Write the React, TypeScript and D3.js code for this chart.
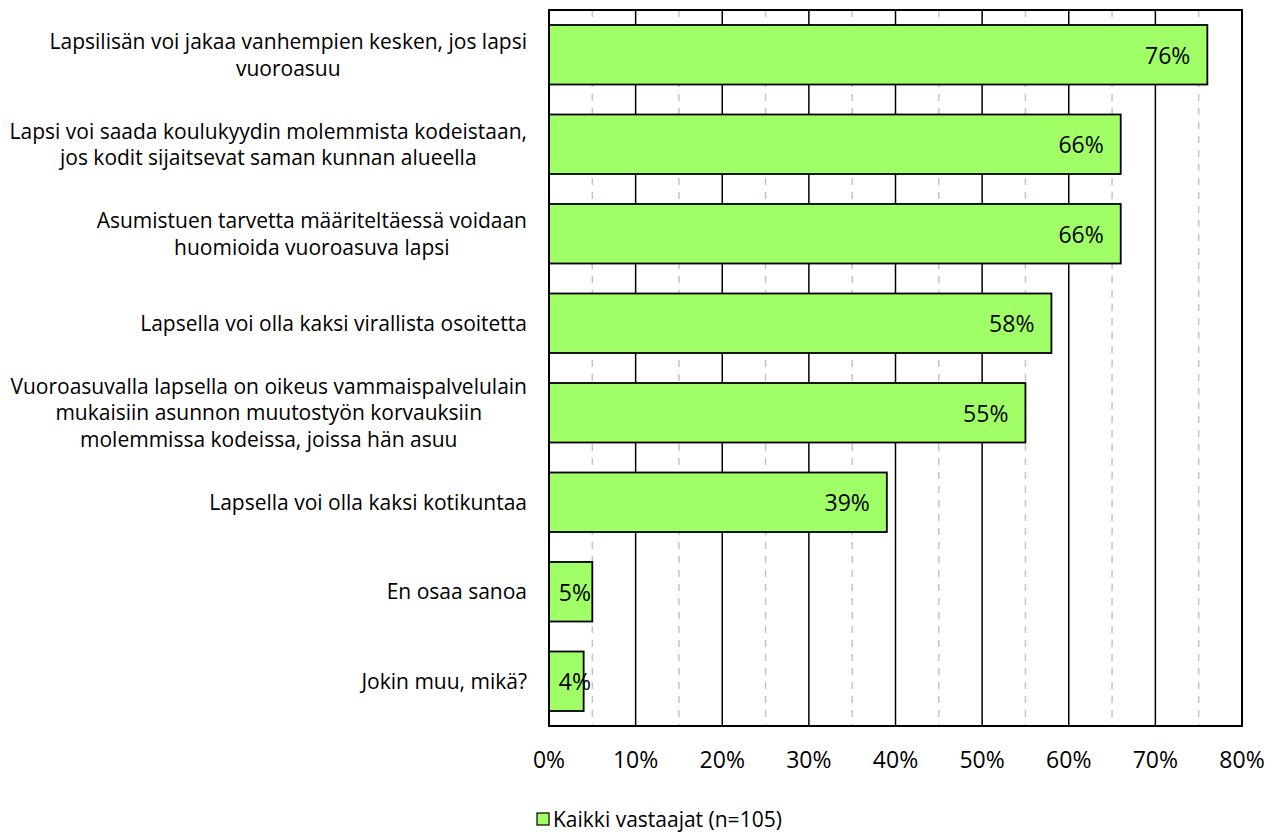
import React, { useEffect, useRef } from 'react';
import * as d3 from 'd3';

// category labels, line breaks as in the original chart
const categories = [
  'Lapsilisän voi jakaa vanhempien kesken, jos lapsi\nvuoroasuu',
  'Lapsi voi saada koulukyydin molemmista kodeistaan,\njos kodit sijaitsevat saman kunnan alueella',
  'Asumistuen tarvetta määriteltäessä voidaan\nhuomioida vuoroasuva lapsi',
  'Lapsella voi olla kaksi virallista osoitetta',
  'Vuoroasuvalla lapsella on oikeus vammaispalvelulain\nmukaisiin asunnon muutostyön korvauksiin\nmolemmissa kodeissa, joissa hän asuu',
  'Lapsella voi olla kaksi kotikuntaa',
  'En osaa sanoa',
  'Jokin muu, mikä?'
];
const values = [76, 66, 66, 58, 55, 39, 5, 4];
const majorTicks = [0, 10, 20, 30, 40, 50, 60, 70, 80];
const minorTicks = [5, 15, 25, 35, 45, 55, 65, 75];
const seriesName = 'Kaikki vastaajat (n=105)';

const FONT = '"Open Sans", "Liberation Sans", sans-serif';
const GREEN = '#a0ff66';

export default function App() {
  const svgRef = useRef<SVGSVGElement>(null);

  useEffect(() => {
    document.body.style.margin = '0';
    if (!svgRef.current) return;

    const W = 1277;
    const H = 834;
    const plot = { left: 549, right: 1242, top: 10, bottom: 726 };

    const svg = d3.select(svgRef.current);
    svg.selectAll('*').remove();
    svg.attr('width', W).attr('height', H);

    const x = d3.scaleLinear().domain([0, 80]).range([plot.left, plot.right]);
    const y = d3.scaleBand<string>()
      .domain(categories)
      .range([plot.top, plot.bottom])
      .paddingInner(0.335)
      .paddingOuter(0.1675);

    // minor dashed grid
    svg.append('g')
      .selectAll('line')
      .data(minorTicks)
      .enter()
      .append('line')
      .attr('x1', d => x(d))
      .attr('x2', d => x(d))
      .attr('y1', plot.top)
      .attr('y2', plot.bottom)
      .attr('stroke', '#c4c4c4')
      .attr('stroke-width', 1.5)
      .attr('stroke-dasharray', '7,7');

    // major grid
    svg.append('g')
      .selectAll('line')
      .data(majorTicks.slice(1, -1))
      .enter()
      .append('line')
      .attr('x1', d => x(d))
      .attr('x2', d => x(d))
      .attr('y1', plot.top)
      .attr('y2', plot.bottom)
      .attr('stroke', '#000')
      .attr('stroke-width', 1.5);

    // bars
    svg.append('g')
      .selectAll('rect')
      .data(values)
      .enter()
      .append('rect')
      .attr('x', x(0))
      .attr('y', (d, i) => y(categories[i]) || 0)
      .attr('width', d => x(d) - x(0))
      .attr('height', y.bandwidth())
      .attr('fill', GREEN)
      .attr('stroke', '#000')
      .attr('stroke-width', 1.8);

    // plot border
    svg.append('rect')
      .attr('x', plot.left)
      .attr('y', plot.top)
      .attr('width', plot.right - plot.left)
      .attr('height', plot.bottom - plot.top)
      .attr('fill', 'none')
      .attr('stroke', '#000')
      .attr('stroke-width', 2);

    // value labels
    svg.append('g')
      .selectAll('text')
      .data(values)
      .enter()
      .append('text')
      .attr('x', d => Math.max(x(d) - 17, x(0) + 42))
      .attr('y', (d, i) => (y(categories[i]) || 0) + y.bandwidth() / 2 + 9)
      .attr('text-anchor', 'end')
      .attr('font-family', FONT)
      .attr('font-size', 23)
      .attr('fill', '#000')
      .text(d => `${d}%`);

    // x tick labels
    svg.append('g')
      .selectAll('text')
      .data(majorTicks)
      .enter()
      .append('text')
      .attr('x', d => x(d))
      .attr('y', 768)
      .attr('text-anchor', 'middle')
      .attr('font-family', FONT)
      .attr('font-size', 23)
      .attr('fill', '#000')
      .text(d => `${d}%`);

    // category labels: lines centred in a block whose right edge sits left of the axis
    const labelRight = 527;
    const lineH = 26.5;
    categories.forEach(cat => {
      const lines = cat.split('\n');
      const cy = (y(cat) || 0) + y.bandwidth() / 2;
      const g = svg.append('g');
      const texts = lines.map((ln, k) =>
        g.append('text')
          .attr('y', cy - ((lines.length - 1) * lineH) / 2 + k * lineH + 7.5)
          .attr('font-family', FONT)
          .attr('font-size', 21)
          .attr('fill', '#000')
          .attr('text-anchor', 'middle')
          .text(ln)
      );
      const widths = texts.map(t => (t.node() as SVGTextElement).getComputedTextLength());
      const blockW = d3.max(widths) || 0;
      texts.forEach(t => t.attr('x', labelRight - blockW / 2));
    });

    // legend
    const legend = svg.append('g');
    legend.append('rect')
      .attr('x', 537)
      .attr('y', 813)
      .attr('width', 12)
      .attr('height', 12)
      .attr('fill', GREEN)
      .attr('stroke', '#000')
      .attr('stroke-width', 1.2);
    legend.append('text')
      .attr('x', 553)
      .attr('y', 827)
      .attr('font-family', FONT)
      .attr('font-size', 21)
      .attr('fill', '#000')
      .text(seriesName);
  }, []);

  return <svg ref={svgRef} style={{ display: 'block' }} />;
}
